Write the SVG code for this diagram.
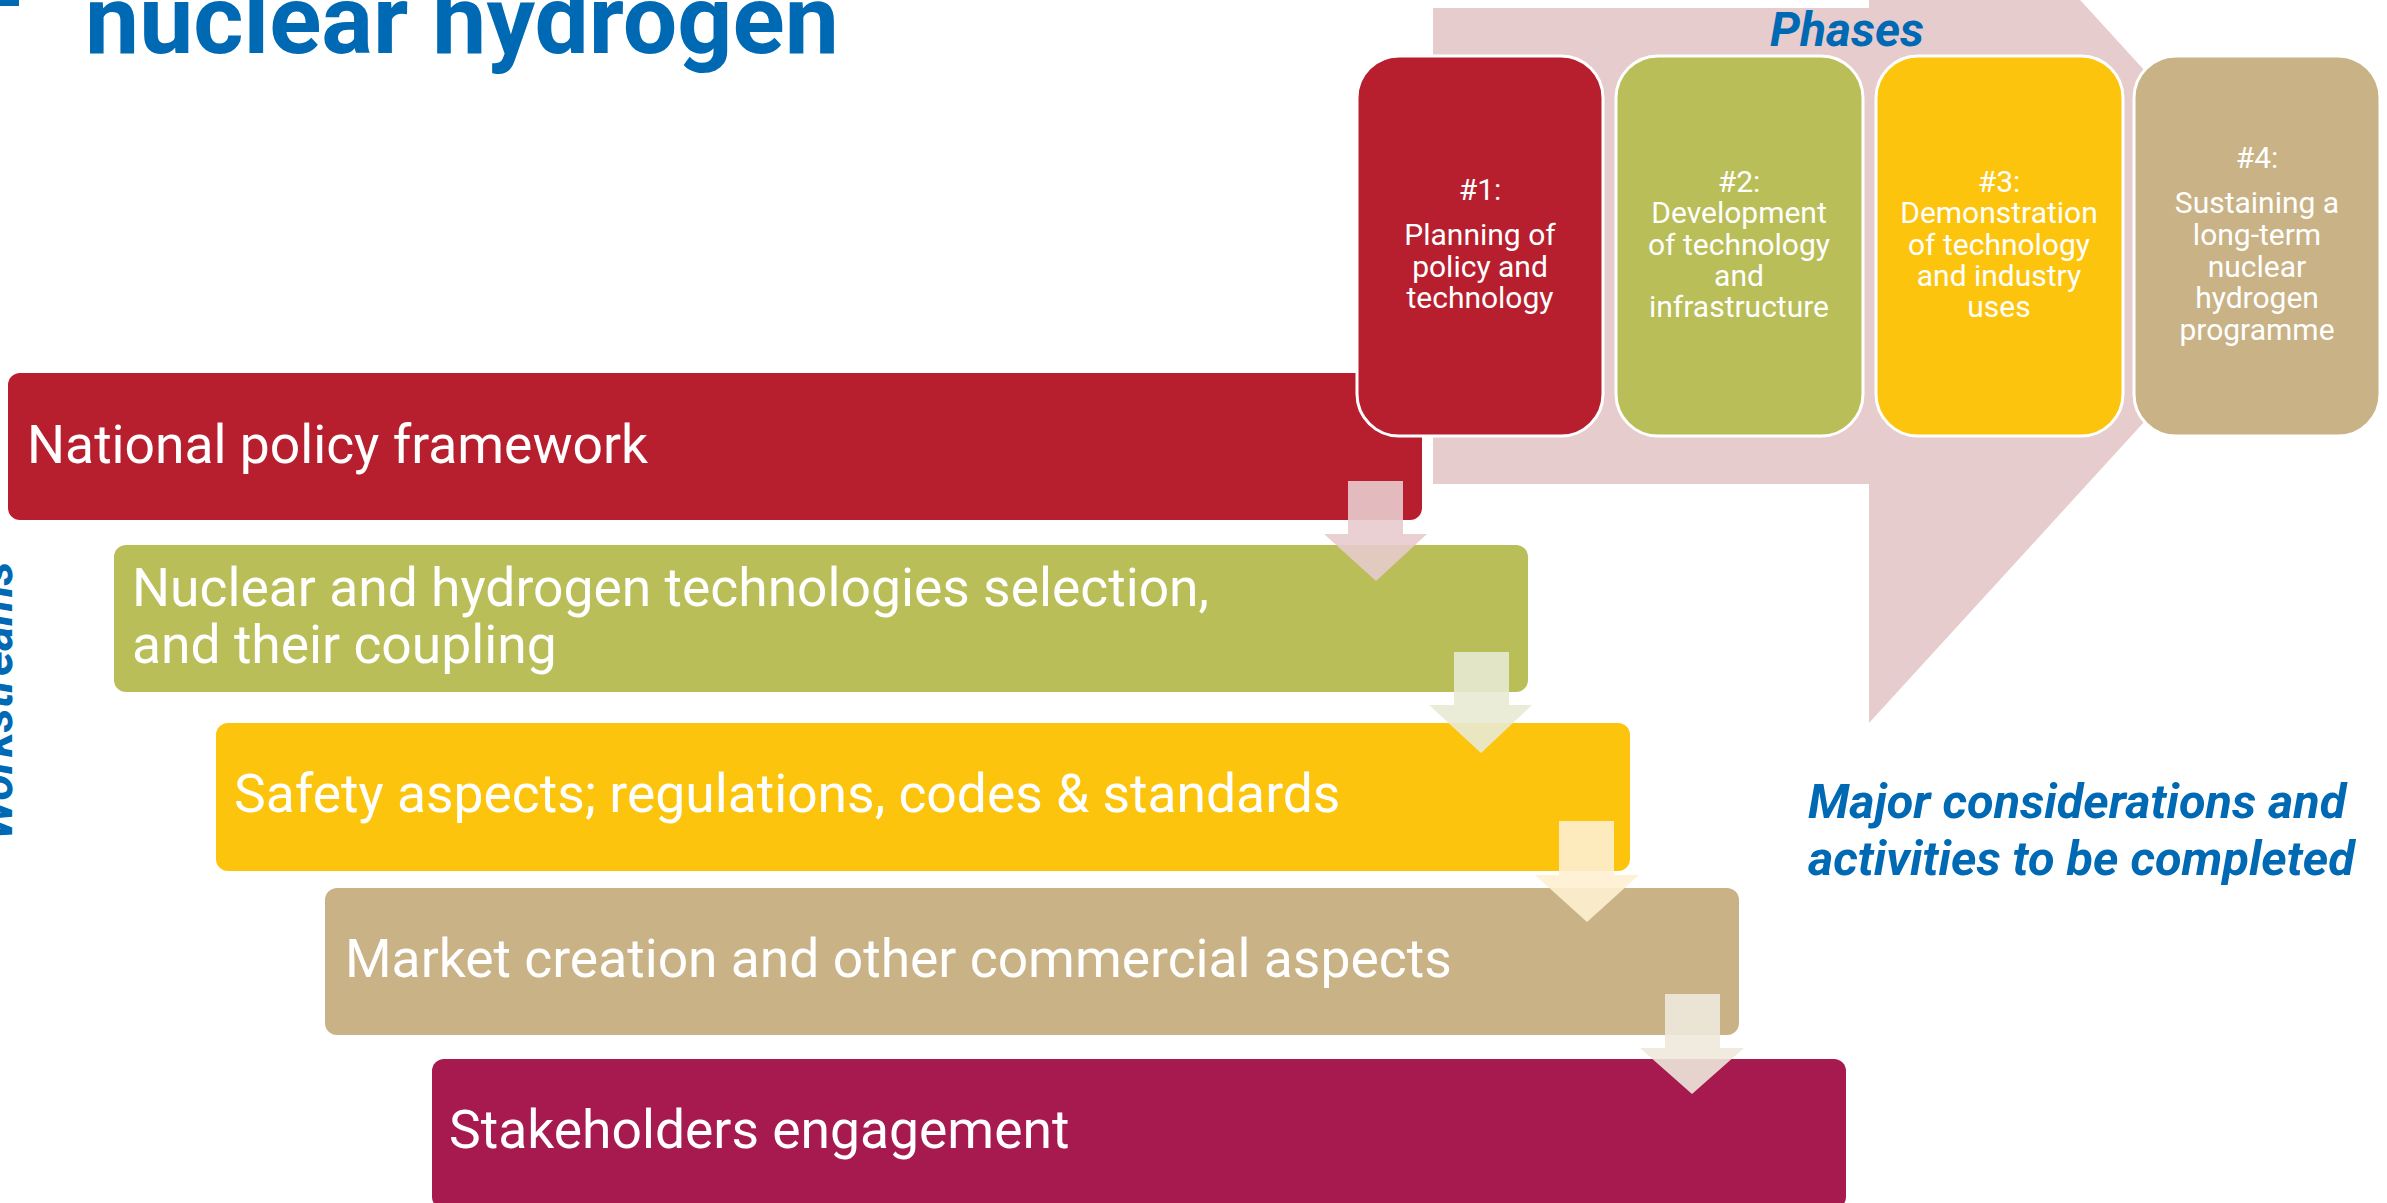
<svg xmlns="http://www.w3.org/2000/svg" width="2387" height="1203" viewBox="0 0 2387 1203">
<style>
.title{font-family:Roboto,"Liberation Sans",sans-serif;font-weight:bold;fill:#0069B4}
.lbl{font-family:Roboto,"Liberation Sans",sans-serif;font-weight:bold;font-style:italic;fill:#0069B4}
.ws{font-family:Roboto,"Liberation Sans",sans-serif;font-size:53.4px;fill:#FFFFFF}
.ph{font-family:Roboto,"Liberation Sans",sans-serif;font-size:30px;fill:#FFFFFF;text-anchor:middle}
.phbox{stroke:#FFFFFF;stroke-width:3}
.red{fill:#B81F2E}.green{fill:#B9BE58}.yellow{fill:#FDC40E}.tan{fill:#C9B386}.mag{fill:#A71A50}
.dn{opacity:0.9}
</style>
<rect width="2387" height="1203" fill="#FFFFFF"/>
<rect x="0" y="0" width="19" height="6" fill="#0069B4"/>
<text class="title" x="85" y="53" font-size="96.6">nuclear hydrogen</text>
<text class="lbl" font-size="48" text-anchor="middle" transform="translate(12,701) rotate(-90)">Workstreams</text>

<g id="phases-arrow">
<polygon points="1433,8 1869,8 1869,-231 2305,246 1869,723 1869,484 1433,484" fill="#E7CCCD"/>
<text class="lbl" x="1847" y="46" font-size="48" text-anchor="middle">Phases</text>
</g>

<g id="ws1"><rect class="red" x="8" y="373" width="1414" height="147" rx="12"/><text class="ws" x="27" y="463">National policy framework</text></g>
<g id="ws2"><rect class="green" x="114" y="545" width="1414" height="147" rx="12"/><text class="ws" x="132" y="606">Nuclear and hydrogen technologies selection,</text><text class="ws" x="132" y="663">and their coupling</text></g>
<g id="ws3"><rect class="yellow" x="216" y="723" width="1414" height="148" rx="12"/><text class="ws" x="234" y="812">Safety aspects; regulations, codes &amp; standards</text></g>
<g id="ws4"><rect class="tan" x="325" y="888" width="1414" height="147" rx="12"/><text class="ws" x="345" y="977">Market creation and other commercial aspects</text></g>
<g id="ws5"><rect class="mag" x="432" y="1059" width="1414" height="150" rx="12"/><text class="ws" x="449" y="1148">Stakeholders engagement</text></g>

<g id="phase1"><rect class="red phbox" x="1357" y="56" width="246" height="380" rx="42"/>
<text class="ph" x="1480" y="200">#1:</text><text class="ph" x="1480" y="245">Planning of</text><text class="ph" x="1480" y="277">policy and</text><text class="ph" x="1480" y="308">technology</text></g>
<g id="phase2"><rect class="green phbox" x="1616" y="56" width="247" height="380" rx="42"/>
<text class="ph" x="1739" y="192">#2:</text><text class="ph" x="1739" y="223">Development</text><text class="ph" x="1739" y="255">of technology</text><text class="ph" x="1739" y="286">and</text><text class="ph" x="1739" y="317">infrastructure</text></g>
<g id="phase3"><rect class="yellow phbox" x="1876" y="56" width="247" height="380" rx="42"/>
<text class="ph" x="1999" y="192">#3:</text><text class="ph" x="1999" y="223">Demonstration</text><text class="ph" x="1999" y="255">of technology</text><text class="ph" x="1999" y="286">and industry</text><text class="ph" x="1999" y="317">uses</text></g>
<g id="phase4"><rect class="tan phbox" x="2134" y="56" width="246" height="380" rx="42"/>
<text class="ph" x="2257" y="168">#4:</text><text class="ph" x="2257" y="213">Sustaining a</text><text class="ph" x="2257" y="245">long-term</text><text class="ph" x="2257" y="277">nuclear</text><text class="ph" x="2257" y="308">hydrogen</text><text class="ph" x="2257" y="340">programme</text></g>

<g id="connectors">
<polygon class="dn" fill="#E8CBCD" points="1348,481 1403,481 1403,534 1427,534 1376,581 1324,534 1348,534"/>
<polygon class="dn" fill="#E8EAD3" points="1454,652 1509,652 1509,705 1532,705 1481,753 1429,705 1454,705"/>
<polygon class="dn" fill="#FEEFD0" points="1559,821 1614,821 1614,875 1639,875 1587,922 1535,875 1559,875"/>
<polygon class="dn" fill="#EEE8DC" points="1665,994 1720,994 1720,1048 1744,1048 1692,1094 1640,1048 1665,1048"/>
</g>

<g id="note"><text class="lbl" x="1808" y="818" font-size="48.6">Major considerations and</text><text class="lbl" x="1808" y="875" font-size="48.6">activities to be completed</text></g>
</svg>
